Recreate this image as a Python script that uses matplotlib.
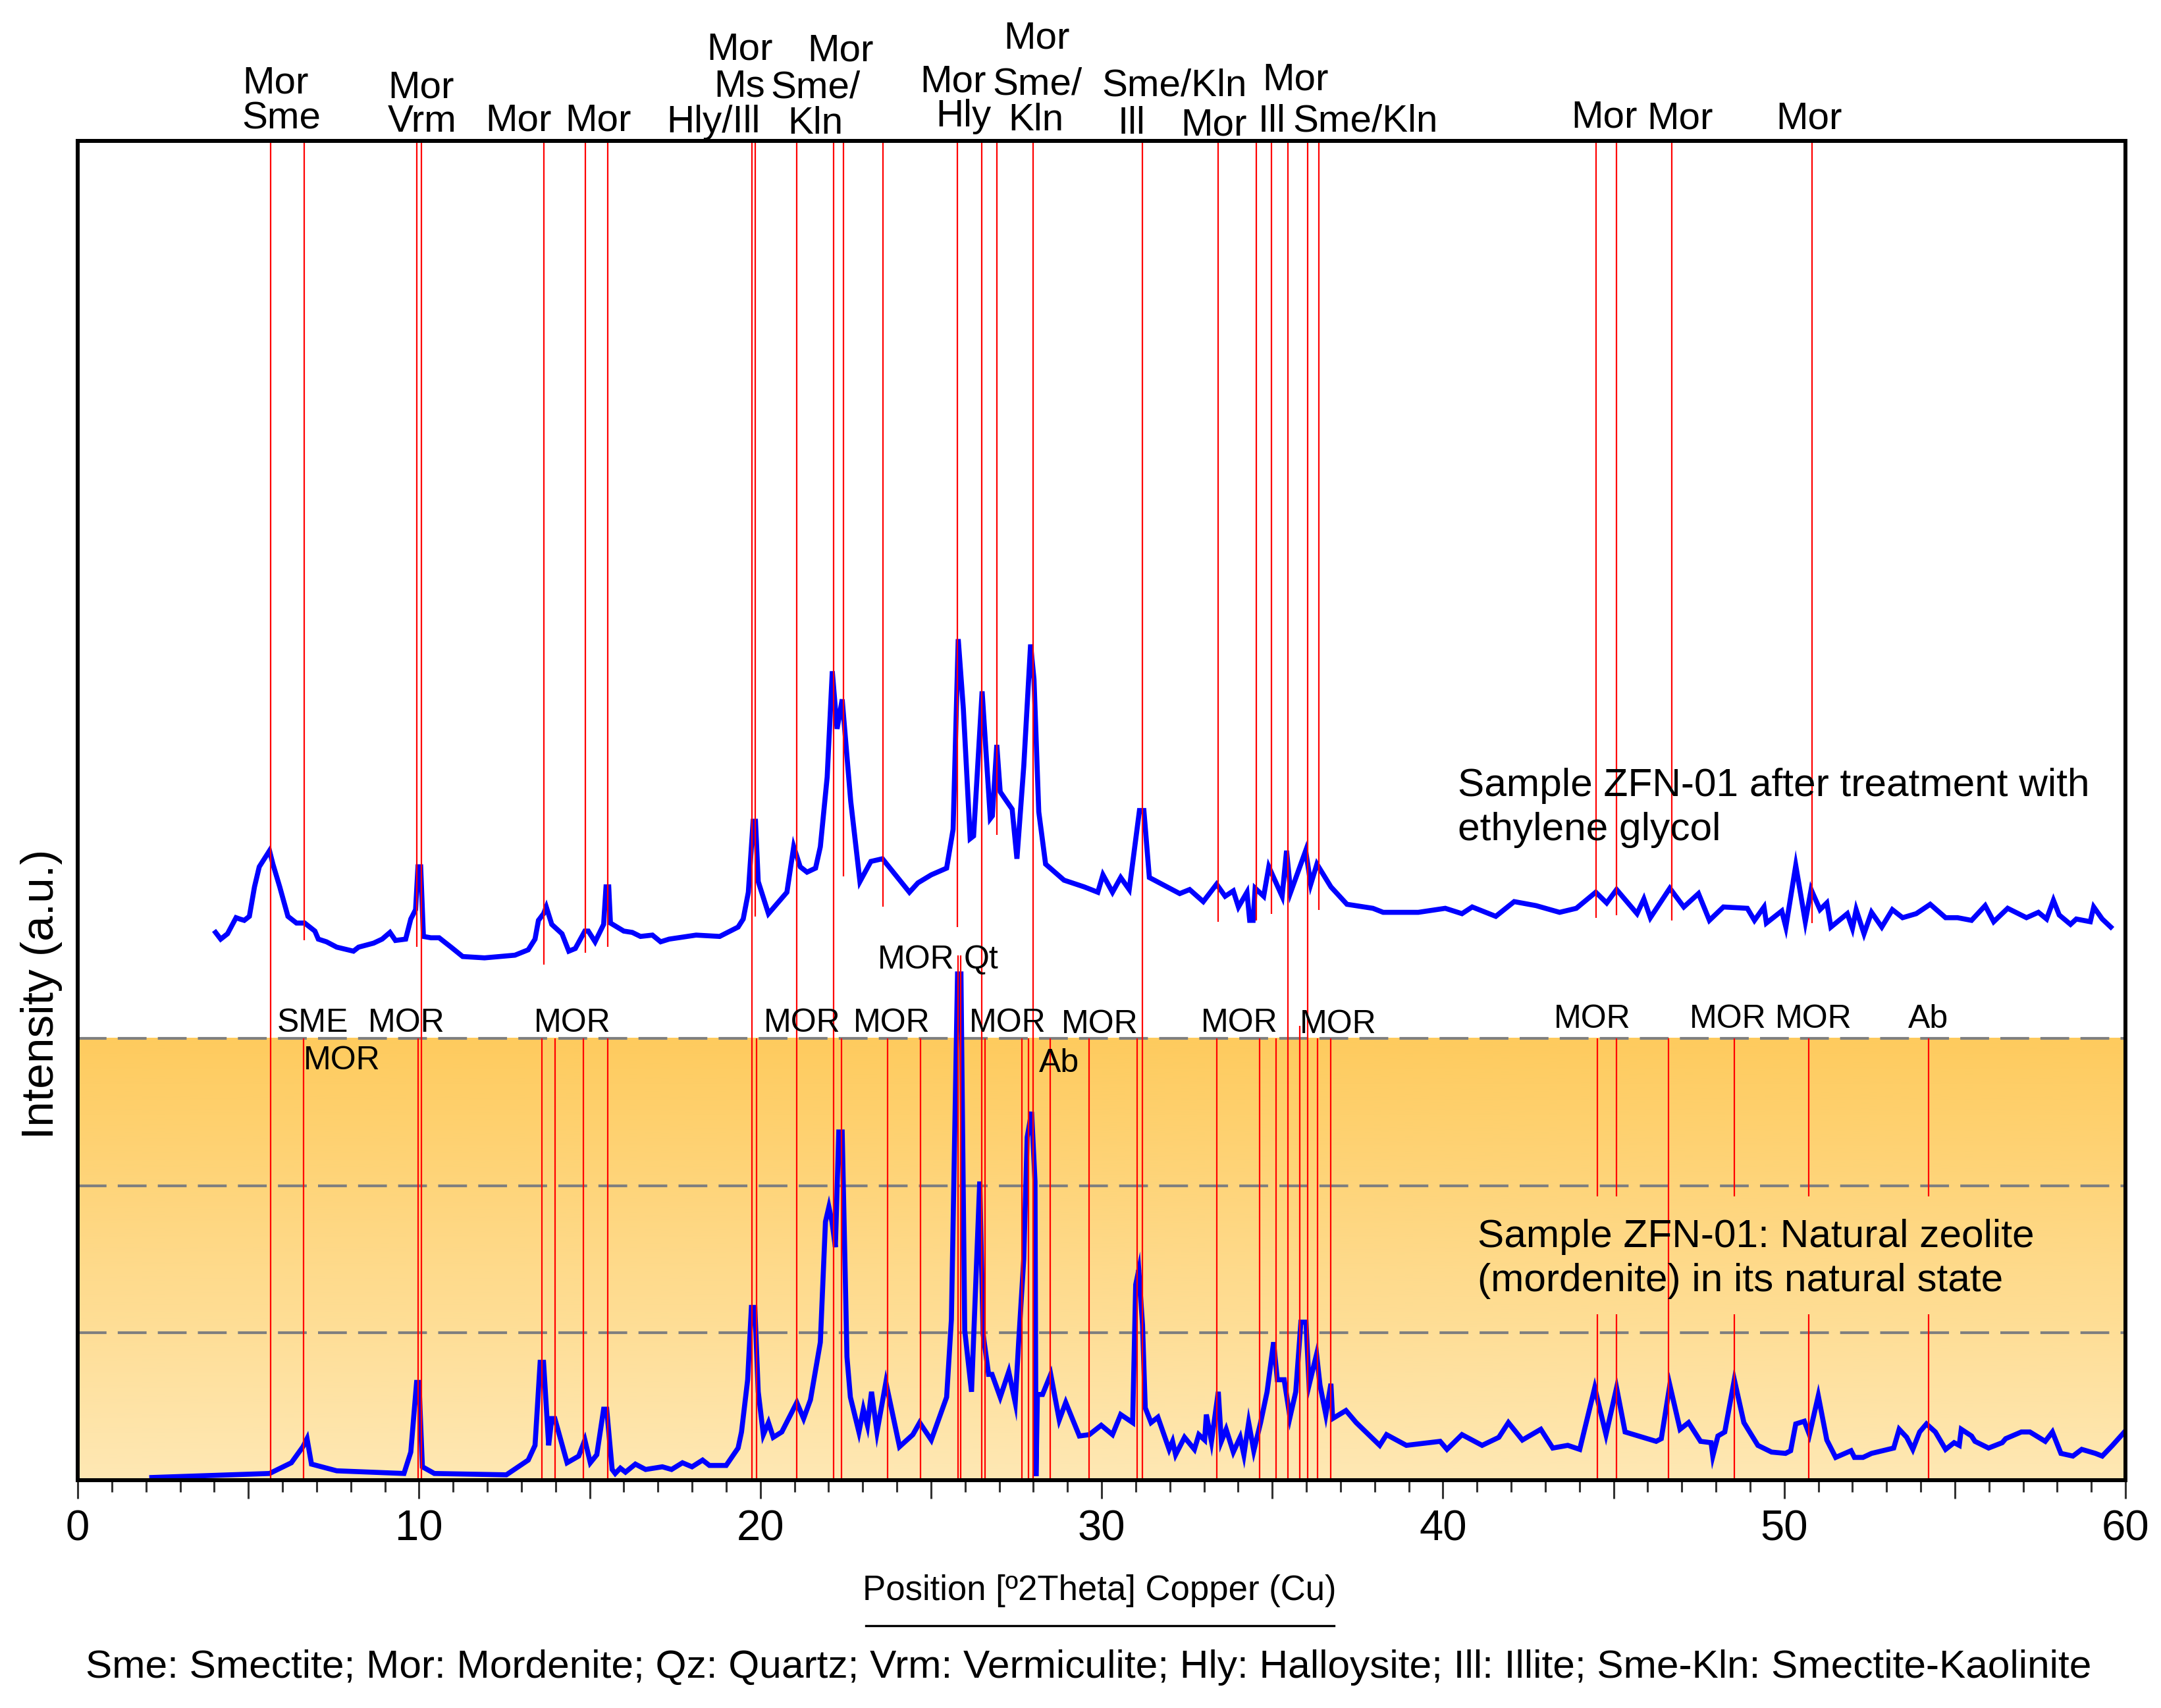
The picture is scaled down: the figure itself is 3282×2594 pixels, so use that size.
import numpy as np
import matplotlib
matplotlib.use("Agg")
import matplotlib.pyplot as plt
from matplotlib.colors import LinearSegmentedColormap
from matplotlib.lines import Line2D

plt.rcParams['font.family'] = ['Liberation Sans', 'DejaVu Sans']

################### Data #####################

# Sample ZFN-01 after ethylene glycol (upper trace), 2theta and intensity (a.u.)
glycol_x = [4.04, 4.19, 4.39, 4.64, 4.75, 4.88, 5.03, 5.18, 5.32, 5.62, 5.72, 5.92, 6.16, 6.41, 6.65,
            6.95, 7.05, 7.29, 7.59, 8.08, 8.23, 8.67, 8.92, 9.15, 9.31, 9.61, 9.76, 9.90, 9.97, 10.05,
            10.13, 10.35, 10.59, 10.94, 11.28, 11.92, 12.81, 13.2, 13.4, 13.5, 13.65, 13.73, 13.89, 14.19, 14.39,
            14.58, 14.86, 14.96, 15.16, 15.41, 15.48, 15.56, 15.61, 16.0, 16.25, 16.49, 16.84, 17.08, 17.33, 18.12,
            18.81, 19.35, 19.5, 19.65, 19.79, 19.86, 19.94, 20.24, 20.78, 20.98, 21.17, 21.37, 21.62, 21.76, 21.96,
            22.11, 22.25, 22.40, 22.65, 22.92, 23.24, 23.58, 24.37, 24.62, 25.01, 25.46, 25.65, 25.80, 25.95, 26.15,
            26.25, 26.50, 26.74, 26.80, 26.93, 27.03, 27.38, 27.52, 27.72, 27.92, 28.02, 28.16, 28.36, 28.90, 29.49,
            29.89, 30.04, 30.32, 30.56, 30.81, 31.11, 31.24, 31.40, 32.29, 32.58, 32.98, 33.37, 33.62, 33.86, 34.01,
            34.26, 34.34, 34.44, 34.50, 34.75, 34.90, 35.29, 35.42, 35.54, 35.98, 36.13, 36.31, 36.72, 37.19, 37.95,
            38.25, 39.28, 40.07, 40.56, 40.86, 41.55, 42.09, 42.73, 43.42, 43.91, 44.48, 44.80, 45.09, 45.69, 45.89,
            46.08, 46.65, 47.06, 47.49, 47.81, 48.22, 48.92, 49.13, 49.41, 49.48, 49.93, 50.05, 50.34, 50.62, 50.79,
            51.05, 51.25, 51.37, 51.85, 52.0, 52.11, 52.34, 52.56, 52.86, 53.17, 53.47, 53.87, 54.28, 54.73, 55.08,
            55.49, 55.89, 56.14, 56.55, 57.10, 57.45, 57.69, 57.89, 58.06, 58.39, 58.56, 58.97, 59.07, 59.32, 59.57]
glycol_y = [40.9, 40.4, 40.8, 42.0, 41.9, 41.8, 42.1, 44.3, 45.8, 47.0, 46.0, 44.3, 42.1, 41.6, 41.6,
            41.0, 40.4, 40.2, 39.8, 39.5, 39.8, 40.1, 40.4, 40.9, 40.3, 40.4, 41.9, 42.6, 45.8, 45.8,
            40.6, 40.5, 40.5, 39.8, 39.1, 39.0, 39.2, 39.6, 40.4, 41.8, 42.3, 42.8, 41.5, 40.8, 39.5,
            39.7, 41.0, 41.0, 40.2, 41.5, 44.3, 44.3, 41.6, 41.0, 40.9, 40.6, 40.7, 40.2, 40.4, 40.7,
            40.6, 41.3, 41.9, 43.9, 49.2, 49.2, 44.7, 42.3, 43.9, 47.3, 45.8, 45.4, 45.7, 47.3, 52.5,
            60.4, 56.1, 58.3, 50.7, 44.7, 46.2, 46.4, 43.9, 44.6, 45.2, 45.7, 48.6, 62.8, 57.6, 47.9,
            48.1, 58.9, 49.4, 49.6, 54.9, 51.4, 50.1, 46.4, 53.3, 62.4, 59.8, 49.9, 46.0, 44.8, 44.3,
            43.9, 45.2, 43.9, 45.0, 44.1, 50.0, 50.0, 45.0, 43.8, 44.1, 43.2, 44.5, 43.6, 44.0, 42.8,
            43.9, 41.8, 41.8, 44.2, 43.6, 45.8, 43.6, 47.0, 43.9, 47.0, 44.5, 46.0, 44.3, 43.0, 42.7,
            42.4, 42.4, 42.7, 42.3, 42.8, 42.1, 43.2, 42.9, 42.4, 42.7, 43.9, 43.1, 44.1, 42.3, 43.4,
            42.0, 44.2, 42.8, 43.8, 41.8, 42.8, 42.7, 41.8, 42.8, 41.6, 42.5, 41.3, 45.9, 41.7, 44.1,
            42.6, 43.1, 41.3, 42.3, 41.2, 42.6, 40.8, 42.4, 41.3, 42.6, 42.0, 42.3, 43.0, 42.0, 42.0,
            41.8, 42.9, 41.7, 42.7, 42.0, 42.4, 41.9, 43.3, 42.2, 41.5, 41.9, 41.7, 42.8, 41.9, 41.3]

# Sample ZFN-01 natural state (lower trace)
natural_x = [2.17, 5.62, 6.26, 6.60, 6.72, 6.85, 7.59, 9.56, 9.76, 9.93, 10.00, 10.10, 10.45, 12.56, 13.20,
             13.40, 13.55, 13.65, 13.80, 13.89, 13.98, 14.34, 14.68, 14.86, 15.02, 15.21, 15.41, 15.50, 15.66, 15.75,
             15.90, 16.05, 16.34, 16.64, 17.13, 17.40, 17.72, 18.00, 18.31, 18.51, 19.00, 19.35, 19.45, 19.63, 19.74,
             19.84, 19.94, 20.09, 20.24, 20.38, 20.63, 21.07, 21.27, 21.47, 21.76, 21.91, 22.01, 22.10, 22.20, 22.30,
             22.40, 22.54, 22.64, 22.89, 23.02, 23.14, 23.26, 23.42, 23.68, 24.08, 24.47, 24.67, 25.01, 25.46, 25.60,
             25.78, 25.88, 25.99, 26.19, 26.43, 26.53, 26.69, 26.79, 27.03, 27.28, 27.47, 27.57, 27.72, 27.82, 27.95,
             28.05, 28.08, 28.12, 28.27, 28.51, 28.76, 28.95, 29.35, 29.64, 29.99, 30.32, 30.56, 30.91, 31.00, 31.09,
             31.20, 31.28, 31.45, 31.65, 31.98, 32.08, 32.17, 32.43, 32.72, 32.85, 33.02, 33.07, 33.22, 33.42, 33.51,
             33.65, 33.86, 34.06, 34.17, 34.31, 34.46, 34.66, 34.85, 35.04, 35.15, 35.35, 35.52, 35.69, 35.84, 35.99,
             36.08, 36.30, 36.40, 36.57, 36.72, 36.77, 37.16, 37.46, 38.15, 38.35, 38.93, 39.92, 40.12, 40.56, 41.15,
             41.64, 41.92, 42.33, 42.87, 43.22, 43.66, 44.01, 44.45, 44.78, 45.09, 45.34, 46.25, 46.40, 46.65, 46.95,
             47.20, 47.55, 47.86, 47.91, 48.06, 48.26, 48.54, 48.82, 49.23, 49.63, 50.04, 50.19, 50.34, 50.59, 50.74,
             51.00, 51.25, 51.51, 51.96, 52.06, 52.31, 52.56, 53.21, 53.37, 53.59, 53.77, 53.97, 54.17, 54.43, 54.73,
             54.98, 55.13, 55.19, 55.49, 55.59, 55.99, 56.39, 56.49, 56.95, 57.20, 57.65, 57.86, 58.11, 58.46, 58.72,
             59.12, 59.32, 59.62, 59.97]
natural_y = [0.2, 0.5, 1.3, 2.5, 3.1, 1.2, 0.7, 0.5, 2.1, 7.3, 7.3, 1.0, 0.5, 0.4, 1.5,
             2.6, 8.8, 8.8, 2.6, 4.6, 4.6, 1.3, 1.8, 3.0, 1.3, 1.9, 5.3, 5.3, 0.8, 0.5,
             0.9, 0.6, 1.2, 0.8, 1.0, 0.8, 1.3, 1.0, 1.5, 1.1, 1.1, 2.4, 3.6, 7.5, 12.9,
             12.9, 6.6, 3.4, 4.3, 3.2, 3.6, 5.8, 4.6, 6.0, 10.3, 19.3, 20.4, 19.3, 17.4, 26.0,
             26.0, 9.2, 6.2, 3.6, 5.3, 4.1, 6.6, 3.6, 7.3, 2.5, 3.4, 4.3, 3.0, 6.2, 12.0,
             37.8, 37.8, 11.2, 6.6, 22.3, 10.9, 7.9, 7.9, 6.2, 8.1, 5.8, 10.3, 16.5, 25.6, 27.5,
             22.3, 0.3, 6.4, 6.4, 7.9, 4.5, 5.8, 3.3, 3.4, 4.1, 3.4, 4.9, 4.3, 14.6, 15.7,
             11.6, 5.4, 4.3, 4.7, 2.3, 2.9, 1.9, 3.2, 2.3, 3.4, 3.0, 4.9, 2.9, 6.6, 2.9,
             3.8, 2.1, 3.2, 1.9, 4.3, 2.2, 4.3, 6.6, 10.3, 7.5, 7.5, 4.7, 6.6, 11.8, 11.8,
             7.1, 9.4, 7.1, 4.9, 7.2, 4.6, 5.2, 4.3, 2.6, 3.4, 2.6, 2.9, 2.3, 3.4, 2.6,
             3.2, 4.3, 3.0, 3.8, 2.4, 2.6, 2.3, 6.9, 3.4, 6.9, 3.6, 2.9, 3.1, 7.1, 3.8,
             4.3, 2.9, 2.8, 1.8, 3.3, 3.6, 7.5, 4.3, 2.6, 2.1, 2.0, 2.2, 4.2, 4.4, 3.4,
             6.3, 3.0, 1.7, 2.2, 1.7, 1.7, 2.0, 2.4, 3.8, 3.2, 2.3, 3.6, 4.2, 3.6, 2.3,
             2.8, 2.6, 3.8, 3.3, 2.9, 2.4, 2.8, 3.1, 3.6, 3.6, 2.9, 3.6, 2.0, 1.8, 2.3,
             2.0, 1.8, 2.6, 3.6]

# reference peak positions of the glycol sample (drop from the frame top to y end)
glycol_peaks = [5.65, 6.63, 9.93, 10.07, 13.65, 14.87, 15.54, 19.76, 19.86, 21.07, 22.14, 22.43, 23.59, 25.77,
                26.49, 26.93, 27.99, 31.2, 33.42, 34.53, 34.97, 35.46, 36.03, 36.37, 44.48, 45.09, 46.7, 50.82]
glycol_peak_end = [0, 40.3, 39.8, 0, 38.5, 39.4, 39.8, 0, 42.1, 0, 0, 45.1, 42.8, 41.3,
                   0, 48.2, 0, 0, 41.7, 41.8, 42.3, 0, 0, 42.6, 42.0, 42.2, 41.8, 41.6]

# reference peak positions of the natural sample (from y top down to 0)
natural_peaks = [6.61, 9.97, 13.6, 13.98, 14.81, 15.53, 19.89, 22.37, 23.73, 24.70, 25.80, 25.88, 26.59, 27.67,
                 27.85, 28.49, 29.64, 31.05, 33.38, 34.63, 35.12, 35.80, 36.32, 36.72, 44.53, 45.09, 46.62, 48.54,
                 50.72, 54.23]
natural_peak_top = [33, 33, 33, 33, 33, 33, 33, 33, 33, 33, 39.2, 39.2, 33, 33,
                    33, 33, 33, 33, 33, 33, 33, 33.9, 33, 33, 33, 33, 33, 33,
                    33, 33]
# lines that stop around the sample caption
natural_broken = [44.53, 45.09, 48.54, 50.72, 54.23]

# phase labels above the frame: text, x, y
top_labels = [("Mor", 4.82, 103.54), ("Sme", 4.82, 100.93), ("Mor", 9.09, 103.24), ("Vrm", 9.09, 100.69),
              ("Mor", 11.94, 100.74), ("Mor", 14.28, 100.74), ("Hly/Ill", 17.25, 100.64),
              ("Mor", 18.43, 106.05), ("Ms", 18.64, 103.34), ("Mor", 21.38, 105.95), ("Sme/", 20.30, 103.24),
              ("Kln", 20.80, 100.54), ("Mor", 27.13, 106.93), ("Mor", 24.68, 103.64), ("Sme/", 26.80, 103.49),
              ("Hly", 25.14, 101.08), ("Kln", 27.26, 100.79), ("Sme/Kln", 30.00, 103.39), ("Ill", 30.47, 100.54),
              ("Mor", 34.71, 103.79), ("Mor", 32.32, 100.44), ("Ill", 34.59, 100.69), ("Sme/Kln", 35.60, 100.69),
              ("Mor", 43.76, 101.03), ("Mor", 45.98, 100.93), ("Mor", 49.76, 100.93)]

# phase labels of the natural sample
low_labels = [("SME", 5.85, 33.5), ("MOR", 8.51, 33.5), ("MOR", 6.62, 30.7), ("MOR", 13.37, 33.5),
              ("MOR", 20.10, 33.5), ("MOR", 22.73, 33.5), ("MOR", 23.44, 38.2), ("Qt", 25.97, 38.2),
              ("MOR", 26.12, 33.5), ("MOR", 28.82, 33.4), ("Ab", 28.17, 30.5), ("MOR", 32.92, 33.5),
              ("MOR", 35.81, 33.4), ("MOR", 43.26, 33.8), ("MOR", 47.23, 33.8), ("MOR", 49.74, 33.8),
              ("Ab", 53.64, 33.8)]

grid_levels = [11, 22, 33]
tick_major = list(range(0, 61, 5))
tick_labels = [str(t) if t % 10 == 0 else "" for t in tick_major]

glycol_text = ["Sample ZFN-01 after treatment with", "ethylene glycol"]
natural_text = ["Sample ZFN-01: Natural zeolite", "(mordenite) in its natural state"]
caption = ("Sme: Smectite; Mor: Mordenite; Qz: Quartz; Vrm: Vermiculite; "
           "Hly: Halloysite; Ill: Illite; Sme-Kln: Smectite-Kaolinite")

################### Plot #####################

fig = plt.figure(figsize=(32.82, 25.94), dpi=100)
ax = fig.add_axes([118 / 3282, (2594 - 2248) / 2594, 3110 / 3282, 2034 / 2594])
ax.set_xlim(0, 60)
ax.set_ylim(0, 100)

# orange gradient band behind the natural sample
cmap = LinearSegmentedColormap.from_list("band", ["#FEE8B4", "#FECB5E"])
ax.imshow(np.linspace(0, 1, 256).reshape(-1, 1), cmap=cmap, origin="lower",
          extent=[0, 60, 0, grid_levels[-1]], aspect="auto", zorder=0)

for lev in grid_levels:
    ax.axhline(lev, color="#7f7f7f", lw=3, dashes=(10.5, 4.1), zorder=1)

# red reference lines
ax.vlines(glycol_peaks, glycol_peak_end, 100, color="red", lw=1.6, zorder=4)
for px, top in zip(natural_peaks, natural_peak_top):
    if px in natural_broken:
        ax.vlines(px, 0, 12.4, color="red", lw=1.6, zorder=4)
        ax.vlines(px, 21.2, top, color="red", lw=1.6, zorder=4)
    else:
        ax.vlines(px, 0, top, color="red", lw=1.6, zorder=4)

# the two diffractograms
ax.plot(glycol_x, glycol_y, color="#0000FF", lw=5.5, solid_joinstyle="miter", zorder=3)
ax.plot(natural_x, natural_y, color="#0000FF", lw=5.5, solid_joinstyle="miter", zorder=3)

for txt, x, y in top_labels:
    ax.text(x, y, txt, fontsize=42, ha="left", va="baseline", clip_on=False)
for txt, x, y in low_labels:
    ax.text(x, y, txt, fontsize=36, ha="left", va="baseline", zorder=5)

for i, line in enumerate(glycol_text):
    ax.text(40.44, 51.1 - 3.3 * i, line, fontsize=43.5, ha="left", va="baseline", zorder=5)
for i, line in enumerate(natural_text):
    ax.text(41.02, 17.4 - 3.3 * i, line, fontsize=43.5, ha="left", va="baseline", zorder=5)

# frame and ticks
for sp in ax.spines.values():
    sp.set_linewidth(4.3)
    sp.set_zorder(6)
ax.set_yticks([])
ax.set_xticks(tick_major)
ax.set_xticklabels(tick_labels, family=["Liberation Sans Narrow", "Liberation Sans"], fontsize=47)
ax.set_xticks(range(0, 61), minor=True)
ax.tick_params(axis="x", which="major", direction="out", length=20, width=2.2, color="#333333", pad=12)
ax.tick_params(axis="x", which="minor", direction="out", length=13, width=2.2, color="#333333")

fig.text(63 / 3282, 0.418, "Intensity (a.u.)", rotation=90, fontsize=50, ha="center", va="center")
fig.text(1670 / 3282, (2594 - 2430) / 2594, "Position [º2Theta] Copper (Cu)", fontsize=38,
         ha="center", va="baseline")
fig.add_artist(Line2D([1315 / 3282, 2026 / 3282], [0.0482, 0.0482], color="black", lw=2.4))
fig.text(0.5036, (2594 - 2548) / 2594, caption, fontsize=43.5, ha="center", va="baseline")

fig.savefig("out.png", dpi=100)
